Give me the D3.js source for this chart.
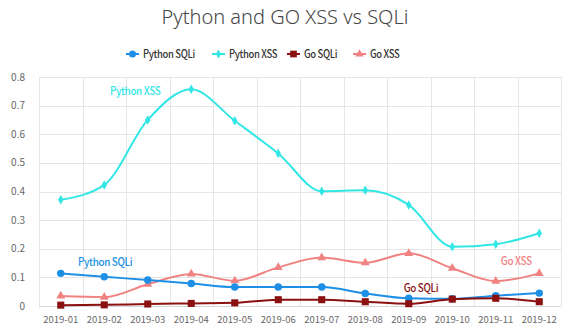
<!DOCTYPE html>
<html>
<head>
<meta charset="utf-8">
<script src="https://cdn.jsdelivr.net/npm/d3@7"></script>
<style>
  body { margin: 0; background: #fff; }
  svg { display: block; font-family: "Noto Sans CJK KR", "Noto Sans", sans-serif; }
</style>
</head>
<body>
<svg id="chart" width="570" height="333"></svg>
<script>
var months = ['2019-01', '2019-02', '2019-03', '2019-04', '2019-05', '2019-06',
  '2019-07', '2019-08', '2019-09', '2019-10', '2019-11', '2019-12'];
var yTicks = [0, 0.1, 0.2, 0.3, 0.4, 0.5, 0.6, 0.7, 0.8];

var pythonSqli = [0.114, 0.102, 0.091, 0.079, 0.066, 0.066, 0.066, 0.044, 0.027, 0.025, 0.036, 0.045];
var pythonXss = [0.371, 0.423, 0.650, 0.757, 0.647, 0.533, 0.401, 0.404, 0.353, 0.207, 0.216, 0.254];
var goSqli = [0.003, 0.004, 0.007, 0.009, 0.011, 0.022, 0.022, 0.015, 0.008, 0.024, 0.027, 0.015];
var goXss = [0.035, 0.031, 0.076, 0.112, 0.088, 0.135, 0.169, 0.151, 0.184, 0.132, 0.087, 0.114];

var seriesNames = ['Python SQLi', 'Python XSS', 'Go SQLi', 'Go XSS'];
var seriesColors = ['#1e8fe6', '#33e6e6', '#8b1111', '#f08282'];

// in-chart series labels: category position (fractional index) and value
var labelNames = ['Python XSS', 'Python SQLi', 'Go SQLi', 'Go XSS'];
var labelIdx = [1.71, 1.02, 8.28, 10.47];
var labelVal = [0.736, 0.14, 0.049, 0.143];

var series = [
  { name: seriesNames[0], values: pythonSqli, color: seriesColors[0], symbol: d3.symbolCircle, size: 44 },
  { name: seriesNames[1], values: pythonXss, color: seriesColors[1], symbol: d3.symbolDiamond, size: 26 },
  { name: seriesNames[2], values: goSqli, color: seriesColors[2], symbol: d3.symbolSquare, size: 50 },
  { name: seriesNames[3], values: goXss, color: seriesColors[3], symbol: d3.symbolTriangle, size: 34 }
];

var margin = { top: 77, right: 9, bottom: 27, left: 39 };
var width = 570, height = 333;
var svg = d3.select('#chart');

var x = d3.scaleBand().domain(months).range([margin.left, width - margin.right]);
var y = d3.scaleLinear().domain([0, 0.8]).range([height - margin.bottom, margin.top]);
var xc = function (i) { return x.range()[0] + x.step() * (i + 0.5); };

// title
svg.append('text')
  .attr('x', 285).attr('y', 24)
  .attr('text-anchor', 'middle')
  .style('font-family', '"Noto Sans", sans-serif')
  .style('font-size', '20px')
  .style('font-weight', 300)
  .style('fill', '#464646')
  .text('Python and GO XSS vs SQLi');

// grid
var grid = svg.append('g');
grid.selectAll('.hl').data(yTicks).enter().append('line')
  .attr('x1', margin.left).attr('x2', width - margin.right)
  .attr('y1', function (d) { return Math.round(y(d)) + 0.5; })
  .attr('y2', function (d) { return Math.round(y(d)) + 0.5; })
  .style('stroke', function (d) { return d === 0 ? '#d6d6d6' : '#e6e6e6'; });
grid.selectAll('.vl').data(d3.range(months.length + 1)).enter().append('line')
  .attr('x1', function (i) { return Math.round(margin.left + i * x.step()) + 0.5; })
  .attr('x2', function (i) { return Math.round(margin.left + i * x.step()) + 0.5; })
  .attr('y1', margin.top).attr('y2', height - margin.bottom)
  .style('stroke', '#e6e6e6');

// y labels
svg.append('g').selectAll('text').data(yTicks).enter().append('text')
  .attr('x', 25).attr('y', function (d) { return y(d) + 3.5; })
  .attr('text-anchor', 'end')
  .style('font-size', '10px').style('fill', '#666')
  .text(function (d) { return d === 0 ? '0' : d3.format('.1f')(d); });

// x labels
svg.append('g').selectAll('text').data(months).enter().append('text')
  .attr('x', function (d, i) { return xc(i); }).attr('y', 323)
  .attr('text-anchor', 'middle')
  .style('font-size', '9.5px').style('fill', '#666')
  .text(function (d) { return d; });

var line = d3.line()
  .x(function (d, i) { return xc(i); })
  .y(function (d) { return y(d); })
  .curve(d3.curveMonotoneX);

// draw the xss lines first so the sqli ones sit on top
[1, 3, 0, 2].forEach(function (k) {
  var s = series[k];
  var g = svg.append('g');
  g.append('path')
    .attr('d', line(s.values))
    .style('fill', 'none')
    .style('stroke', s.color)
    .style('stroke-width', 2);
  g.selectAll('path.pt').data(s.values).enter().append('path')
    .attr('class', 'pt')
    .attr('transform', function (d, i) { return 'translate(' + xc(i) + ',' + y(d) + ')'; })
    .attr('d', d3.symbol().type(s.symbol).size(s.size))
    .style('fill', s.color);
});

// series labels inside the plot (narrowed a bit, the font has no condensed face)
svg.append('g').selectAll('text').data(labelNames).enter().append('text')
  .attr('transform', function (d, i) {
    return 'translate(' + xc(labelIdx[i]) + ',' + y(labelVal[i]) + ') scale(0.9,1)';
  })
  .attr('text-anchor', 'middle')
  .style('font-size', '11px')
  .style('letter-spacing', '-0.4px')
  .style('font-weight', 500)
  .style('fill', function (d) { return seriesColors[seriesNames.indexOf(d)]; })
  .text(function (d) { return d; });

// legend
var legendX = [126, 212, 287, 353];
var legend = svg.append('g');
series.forEach(function (s, i) {
  var g = legend.append('g').attr('transform', 'translate(' + legendX[i] + ',54)');
  g.append('line').attr('x1', 0).attr('x2', 13).attr('y1', 0).attr('y2', 0)
    .style('stroke', s.color).style('stroke-width', 2);
  g.append('path').attr('transform', 'translate(6.5,0)')
    .attr('d', d3.symbol().type(s.symbol).size(s.size * 0.9))
    .style('fill', s.color);
  g.append('text').attr('transform', 'translate(17,4) scale(0.86,1)')
    .style('font-size', '11px')
    .style('letter-spacing', '-0.4px')
    .style('font-weight', 500)
    .style('fill', '#333')
    .text(s.name);
});
</script>
</body>
</html>
